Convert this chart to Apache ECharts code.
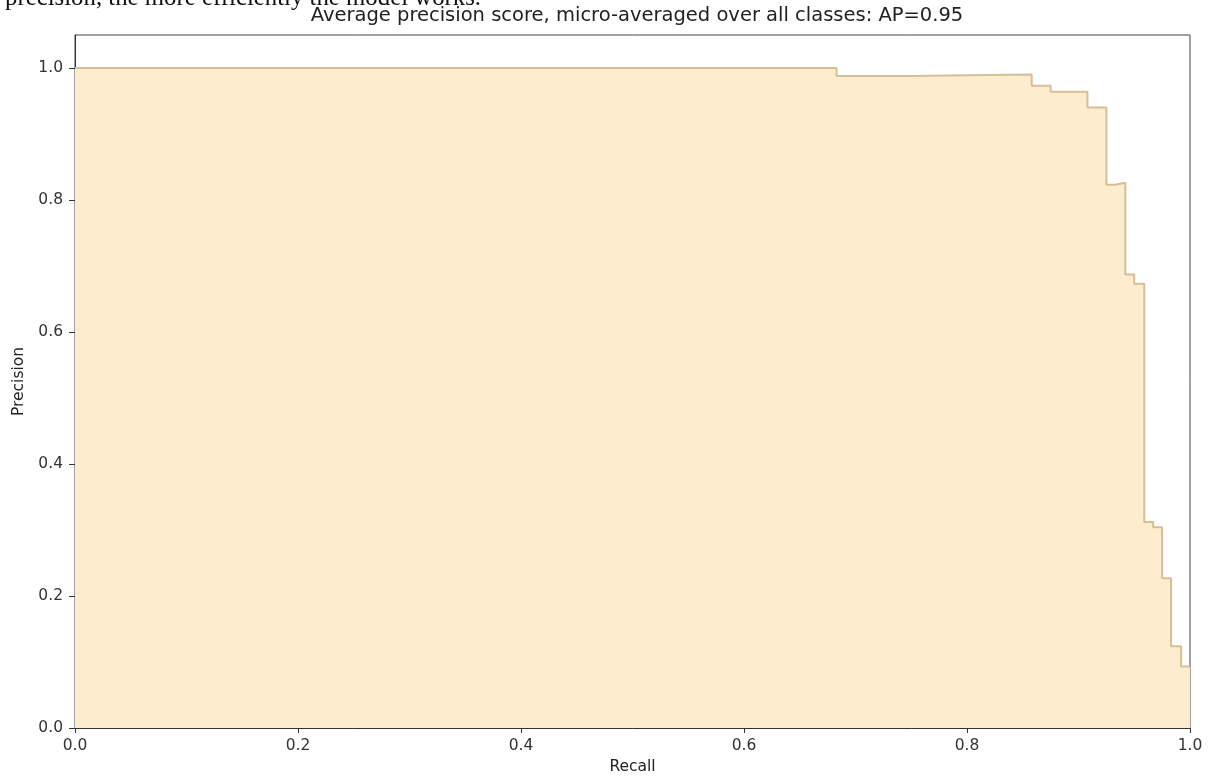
<!DOCTYPE html>
<html>
<head>
<meta charset="utf-8">
<script src="https://cdn.jsdelivr.net/npm/echarts@6/dist/echarts.min.js"></script>
<style>
html,body{margin:0;padding:0;background:#fff;}
#chart{width:1211px;height:776px;}
</style>
</head>
<body>
<div id="chart"></div>
<script>
// Step curve: left edge recall of each horizontal segment, and its precision
var recall =    [0.000, 0.683, 0.750, 0.800, 0.858, 0.875, 0.908, 0.925, 0.933, 0.942, 0.950, 0.959, 0.967, 0.975, 0.983, 0.992, 1.000];
var precision = [1.000, 0.988, 0.989, 0.990, 0.973, 0.964, 0.940, 0.823, 0.826, 0.687, 0.673, 0.312, 0.304, 0.227, 0.124, 0.093, 0.093];
var xTicks = [0.0, 0.2, 0.4, 0.6, 0.8, 1.0];
var yTicks = [0.0, 0.2, 0.4, 0.6, 0.8, 1.0];
var titleText = 'Average precision score, micro-averaged over all classes: AP=0.95';
var topText = 'precision, the more efficiently the model works.';

var data = recall.map(function (r, i) { return [r, precision[i]]; });

var chart = echarts.init(document.getElementById('chart'), null, {renderer: 'canvas'});
var font = 'DejaVu Sans';
chart.setOption({
  animation: false,
  backgroundColor: '#ffffff',
  title: {
    text: titleText,
    left: 632, top: 1, textAlign: 'center',
    textStyle: {fontFamily: font, fontSize: 19.5, fontWeight: 'normal', color: '#222'}
  },
  graphic: [{
    type: 'text', left: 5, top: -14,
    style: {text: topText, font: '24.8px "Liberation Serif"', fill: '#111'}
  }],
  grid: {left: 75, right: 21, top: 35, bottom: 48, show: true, borderColor: '#444', borderWidth: 1,
    containLabel: false, outerBoundsMode: 'none'},
  xAxis: {
    type: 'value', min: 0, max: 1, interval: 0.2,
    name: 'Recall', nameLocation: 'middle', nameGap: 31,
    nameTextStyle: {fontFamily: font, fontSize: 15.5, color: '#222'},
    axisLine: {lineStyle: {color: '#333', width: 1}},
    axisTick: {show: true, inside: false, length: 5, lineStyle: {color: '#333'}, customValues: xTicks},
    axisLabel: {customValues: xTicks, fontFamily: font, fontSize: 15.5, color: '#333', margin: 10,
      formatter: function (v) { return v.toFixed(1); }},
    splitLine: {show: false}
  },
  yAxis: {
    type: 'value', min: 0, max: 1.05, interval: 0.2,
    name: 'Precision', nameLocation: 'middle', nameGap: 46,
    nameTextStyle: {fontFamily: font, fontSize: 15.5, color: '#222'},
    axisLine: {show: true, lineStyle: {color: '#333', width: 1}},
    axisTick: {show: true, inside: false, length: 6, lineStyle: {color: '#333'}, customValues: yTicks},
    axisLabel: {customValues: yTicks, fontFamily: font, fontSize: 15.5, color: '#333', margin: 12,
      formatter: function (v) { return v.toFixed(1); }},
    splitLine: {show: false}
  },
  series: [{
    type: 'line',
    data: data,
    step: 'end',
    symbol: 'none',
    lineStyle: {color: '#d5be98', width: 2},
    areaStyle: {color: '#feecce', opacity: 1}
  }]
});
</script>
</body>
</html>
